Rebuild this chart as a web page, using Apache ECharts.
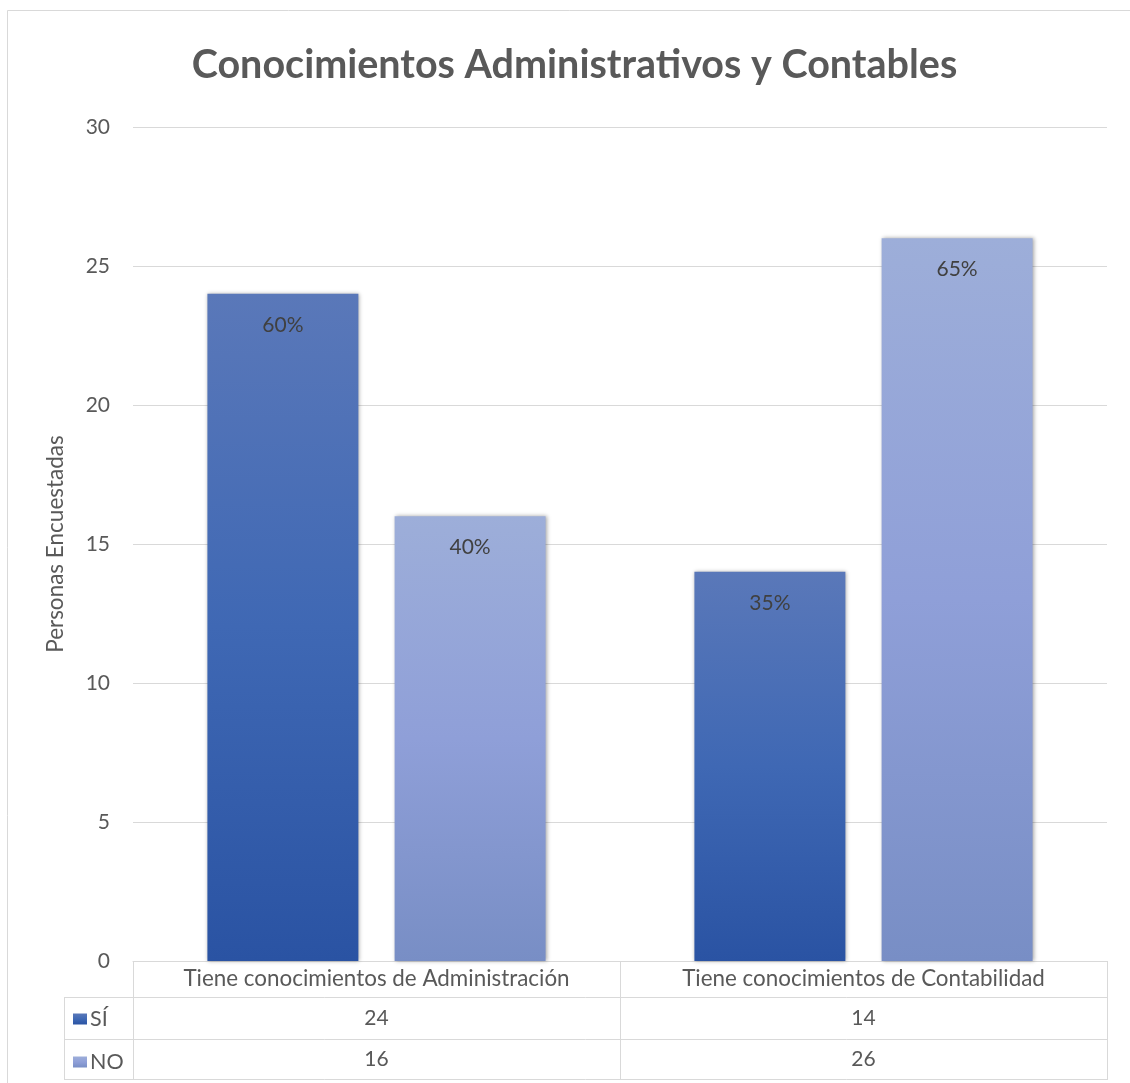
<!DOCTYPE html>
<html>
<head>
<meta charset="utf-8">
<script src="https://cdn.jsdelivr.net/npm/echarts@6/dist/echarts.min.js"></script>
<style>
  html, body { margin: 0; padding: 0; background: #fff; }
  #main { width: 1130px; height: 1083px; }
</style>
</head>
<body>
<div id="main"></div>
<script>
// datos
var categorias = ['Tiene conocimientos de Administración', 'Tiene conocimientos de Contabilidad'];
var serieNombres = ['SÍ', 'NO'];
var valoresSi = [24, 14];
var valoresNo = [16, 26];
var porcentajeSi = ['60%', '35%'];
var porcentajeNo = ['40%', '65%'];
var yTicks = [0, 5, 10, 15, 20, 25, 30];

var fuente = 'Lato';
var gris = '#595959';
var linea = '#d9d9d9';

var myChart = echarts.init(document.getElementById('main'));

function degradado(arriba, medio, abajo) {
  return new echarts.graphic.LinearGradient(0, 0, 0, 1, [
    { offset: 0, color: arriba },
    { offset: 0.5, color: medio },
    { offset: 1, color: abajo }
  ]);
}

var sombra = {
  shadowBlur: 4,
  shadowColor: 'rgba(0,0,0,0.35)',
  shadowOffsetX: 1,
  shadowOffsetY: 0
};

var option = {
  backgroundColor: '#fff',
  animation: false,
  title: {
    text: 'Conocimientos Administrativos y Contables',
    left: 569.5,
    textAlign: 'center',
    top: 40,
    textStyle: { fontFamily: fuente, fontSize: 39.5, fontWeight: 'bold', color: gris }
  },
  legend: {
    data: serieNombres,
    orient: 'vertical',
    left: 73,
    top: 1008,
    padding: 0,
    itemWidth: 14,
    itemHeight: 11,
    itemGap: 21,
    icon: 'rect',
    textStyle: { fontFamily: fuente, fontSize: 21.5, lineHeight: 20, color: gris, padding: [0, 0, 0, -2] }
  },
  grid: { left: 133, right: 23, top: 127, bottom: 122 },
  xAxis: [
    {
      type: 'category',
      data: categorias,
      axisLine: { show: true, lineStyle: { color: linea, width: 1 } },
      axisTick: { show: true, interval: 0, length: 119, lineStyle: { color: linea, width: 1 } },
      axisLabel: { interval: 0, margin: 7, fontFamily: fuente, fontSize: 22.4, color: gris }
    },
    {
      // fila de la tabla: SÍ
      type: 'category',
      data: categorias,
      position: 'bottom',
      offset: 47,
      axisLine: { show: false },
      axisTick: { show: false },
      axisLabel: {
        interval: 0,
        margin: 0,
        fontFamily: fuente, fontSize: 21, color: gris,
        formatter: function (v, i) { return String(valoresSi[i]); }
      }
    },
    {
      // fila de la tabla: NO
      type: 'category',
      data: categorias,
      position: 'bottom',
      offset: 88,
      axisLine: { show: false },
      axisTick: { show: false },
      axisLabel: {
        interval: 0,
        margin: 0,
        fontFamily: fuente, fontSize: 21, color: gris,
        formatter: function (v, i) { return String(valoresNo[i]); }
      }
    }
  ],
  yAxis: {
    type: 'value',
    min: yTicks[0],
    max: yTicks[yTicks.length - 1],
    interval: 5,
    name: 'Personas Encuestadas',
    nameLocation: 'middle',
    nameGap: 66,
    nameTextStyle: { fontFamily: fuente, fontSize: 22.5, color: gris },
    axisLine: { show: false },
    axisTick: { show: false },
    axisLabel: { margin: 23, fontFamily: fuente, fontSize: 21, color: gris },
    splitLine: { lineStyle: { color: linea, width: 1 } }
  },
  series: [
    {
      name: serieNombres[0],
      type: 'bar',
      data: valoresSi,
      barWidth: '31%',
      barGap: '24%',
      itemStyle: Object.assign({ color: degradado('#5a78b9', '#3f68b4', '#2a53a3') }, sombra),
      label: {
        show: true,
        position: 'insideTop',
        distance: 21,
        fontFamily: fuente, fontSize: 21, color: '#404040',
        formatter: function (p) { return porcentajeSi[p.dataIndex]; }
      }
    },
    {
      name: serieNombres[1],
      type: 'bar',
      data: valoresNo,
      barWidth: '31%',
      itemStyle: Object.assign({ color: degradado('#9daed9', '#8f9fd8', '#788ec5') }, sombra),
      label: {
        show: true,
        position: 'insideTop',
        distance: 21,
        fontFamily: fuente, fontSize: 21, color: '#404040',
        formatter: function (p) { return porcentajeNo[p.dataIndex]; }
      }
    }
  ],
  graphic: [
    // marco del grafico
    { type: 'rect', shape: { x: 7.5, y: 10.5, width: 1200, height: 1200 }, style: { fill: 'none', stroke: linea, lineWidth: 1 }, silent: true },
    // lineas de la tabla de datos
    { type: 'line', shape: { x1: 64, y1: 997.5, x2: 1107, y2: 997.5 }, style: { stroke: linea, lineWidth: 1 } },
    { type: 'line', shape: { x1: 64, y1: 1039.5, x2: 1107, y2: 1039.5 }, style: { stroke: linea, lineWidth: 1 } },
    { type: 'line', shape: { x1: 64, y1: 1079.5, x2: 1107, y2: 1079.5 }, style: { stroke: linea, lineWidth: 1 } },
    { type: 'line', shape: { x1: 64.5, y1: 997, x2: 64.5, y2: 1080 }, style: { stroke: linea, lineWidth: 1 } }
  ]
};

myChart.setOption(option);
</script>
</body>
</html>
